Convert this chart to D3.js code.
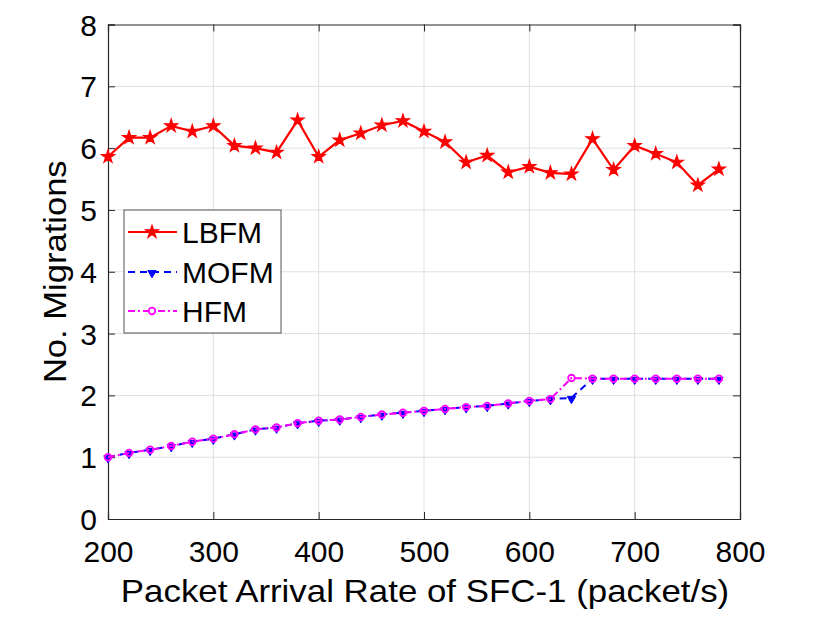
<!DOCTYPE html>
<html><head><meta charset="utf-8">
<script src="https://cdn.jsdelivr.net/npm/d3@7"></script>
<style>body{margin:0;background:#fff}svg{display:block;font-family:"Liberation Sans",Arial,Helvetica,sans-serif}</style>
</head><body>
<svg id="c" width="830" height="617"></svg>
<script>
const xValues = [200,220,240,260,280,300,320,340,360,380,400,420,440,460,480,500,520,540,560,580,600,620,640,660,680,700,720,740,760,780];
const lbfm = [5.86,6.17,6.17,6.36,6.27,6.36,6.04,6.00,5.93,6.45,5.86,6.13,6.24,6.37,6.44,6.27,6.10,5.77,5.88,5.61,5.70,5.60,5.58,6.15,5.65,6.04,5.91,5.77,5.40,5.66];
const mofm = [1.00,1.07,1.12,1.18,1.25,1.30,1.37,1.45,1.48,1.55,1.59,1.61,1.65,1.69,1.72,1.75,1.78,1.81,1.83,1.87,1.91,1.94,1.96,2.27,2.27,2.27,2.27,2.27,2.27,2.27];
const hfm  = [1.00,1.07,1.12,1.18,1.25,1.30,1.37,1.45,1.48,1.55,1.59,1.61,1.65,1.69,1.72,1.75,1.78,1.81,1.83,1.87,1.91,1.94,2.28,2.27,2.27,2.27,2.27,2.27,2.27,2.27];
const xTicks = [200,300,400,500,600,700,800];
const yTicks = [0,1,2,3,4,5,6,7,8];
const seriesNames = ["LBFM","MOFM","HFM"];
const xLabel = "Packet Arrival Rate of SFC-1 (packet/s)";
const yLabel = "No. Migrations";

const L=108,R=740,T=24.5,B=519;
const svg=d3.select("#c");
const x=d3.scaleLinear().domain([200,800]).range([L,R]);
const y=d3.scaleLinear().domain([0,8]).range([B,T]);
const axisCol="#262626";

// grid
svg.append("g").selectAll("line").data(xTicks.slice(1,-1)).join("line")
  .attr("x1",d=>x(d)).attr("x2",d=>x(d)).attr("y1",T).attr("y2",B)
  .attr("stroke","#dfdfdf").attr("stroke-width",1);
svg.append("g").selectAll("line").data(yTicks.slice(1,-1)).join("line")
  .attr("y1",d=>y(d)).attr("y2",d=>y(d)).attr("x1",L).attr("x2",R)
  .attr("stroke","#dfdfdf").attr("stroke-width",1);

// axes
const fs=30;
const gx=svg.append("g").attr("transform",`translate(0,${B})`)
  .call(d3.axisBottom(x).tickValues(xTicks).tickSize(-7).tickPadding(0).tickFormat(d3.format("d")));
const gy=svg.append("g").attr("transform",`translate(${L},0)`)
  .call(d3.axisLeft(y).tickValues(yTicks).tickSize(-7).tickPadding(11).tickFormat(d3.format("d")));
const gx2=svg.append("g").attr("transform",`translate(0,${T})`)
  .call(d3.axisTop(x).tickValues(xTicks).tickSize(-7).tickFormat(""));
const gy2=svg.append("g").attr("transform",`translate(${R},0)`)
  .call(d3.axisRight(y).tickValues(yTicks).tickSize(-7).tickFormat(""));
[gx,gy,gx2,gy2].forEach(g=>{
  g.select(".domain").attr("stroke",axisCol).attr("stroke-width",1.2);
  g.selectAll(".tick line").attr("stroke",axisCol).attr("stroke-width",1);
  g.selectAll("text").attr("fill","#000").style("font-size",fs+"px").style("font-family","'Liberation Sans',Arial,sans-serif");
});
gx.selectAll("text").attr("y",43).attr("dy","0");
gy.selectAll("text").attr("dy","0.35em");

svg.append("text").attr("transform",`translate(${(L+R)/2+1},602) scale(1.125,1)`).attr("text-anchor","middle")
  .style("font-size","31px").text(xLabel);
svg.append("text").attr("transform",`translate(66,${(T+B)/2}) rotate(-90) scale(1.08,1)`).attr("text-anchor","middle")
  .style("font-size","32px").text(yLabel);

const line=d3.line().x((d,i)=>x(xValues[i])).y(d=>y(d));
const star=d3.symbol().type(d3.symbolStar).size(52);
const tri=d3.symbol().type(d3.symbolTriangle).size(30);

const plot=svg.append("g");
// LBFM
plot.append("path").datum(lbfm).attr("d",line).attr("fill","none").attr("stroke","#ff0000").attr("stroke-width",2.2);
plot.selectAll(".st").data(lbfm).join("path").attr("d",star)
  .attr("transform",(d,i)=>`translate(${x(xValues[i])},${y(d)})`)
  .attr("fill","#ff0000").attr("stroke","#ff0000").attr("stroke-width",1.2).attr("stroke-linejoin","miter");
// MOFM
plot.append("path").datum(mofm).attr("d",line).attr("fill","none").attr("stroke","#0000ff").attr("stroke-width",2).attr("stroke-dasharray","7,5");
plot.selectAll(".tr").data(mofm).join("path").attr("d",tri)
  .attr("transform",(d,i)=>`translate(${x(xValues[i])},${y(d)+1}) rotate(180)`)
  .attr("fill","#0000ff").attr("stroke","#0000ff").attr("stroke-width",1);
// HFM
plot.append("path").datum(hfm).attr("d",line).attr("fill","none").attr("stroke","#ff00ff").attr("stroke-width",2).attr("stroke-dasharray","7,3,2,3");
plot.selectAll(".ci").data(hfm).join("circle")
  .attr("cx",(d,i)=>x(xValues[i])).attr("cy",d=>y(d)).attr("r",3.3)
  .attr("fill","none").attr("stroke","#ff00ff").attr("stroke-width",1.8);

// legend
const lg=svg.append("g");
lg.append("rect").attr("x",124).attr("y",210).attr("width",157).attr("height",123)
  .attr("fill","#fff").attr("stroke","#555").attr("stroke-width",1);
const ly=[232,272,311];
const lx1=128,lx2=177,lm=152;
lg.append("line").attr("x1",lx1).attr("x2",lx2).attr("y1",ly[0]).attr("y2",ly[0]).attr("stroke","#ff0000").attr("stroke-width",2.2);
lg.append("path").attr("d",star).attr("transform",`translate(${lm},${ly[0]})`).attr("fill","#ff0000").attr("stroke","#ff0000").attr("stroke-width",1.2);
lg.append("line").attr("x1",lx1).attr("x2",lx2).attr("y1",ly[1]).attr("y2",ly[1]).attr("stroke","#0000ff").attr("stroke-width",2).attr("stroke-dasharray","7,5");
lg.append("path").attr("d",tri).attr("transform",`translate(${lm},${ly[1]+1}) rotate(180)`).attr("fill","#0000ff").attr("stroke","#0000ff");
lg.append("line").attr("x1",lx1).attr("x2",lx2).attr("y1",ly[2]).attr("y2",ly[2]).attr("stroke","#ff00ff").attr("stroke-width",2).attr("stroke-dasharray","7,3,2,3");
lg.append("circle").attr("cx",lm).attr("cy",ly[2]).attr("r",3.3).attr("fill","#fff").attr("stroke","#ff00ff").attr("stroke-width",1.8);
lg.selectAll("text").data(seriesNames).join("text").attr("x",182).attr("y",(d,i)=>ly[i]).attr("dy","0.36em")
  .style("font-size","30px").text(d=>d);
</script>
</body></html>
